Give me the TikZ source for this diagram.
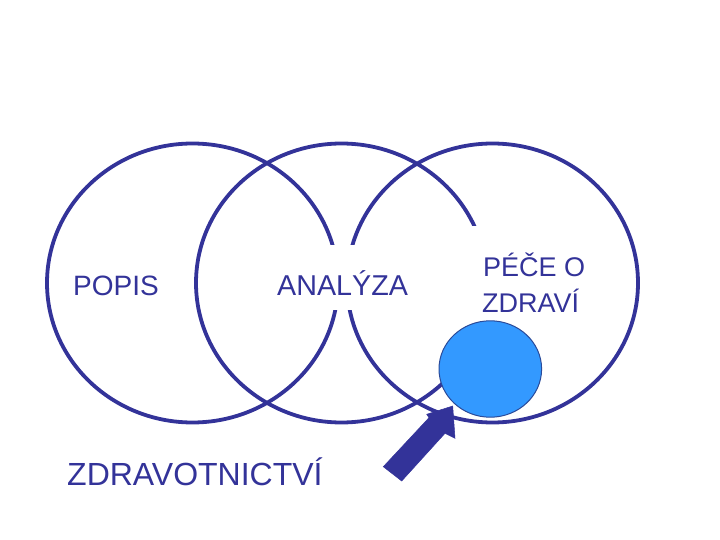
\documentclass[tikz,border=0pt]{standalone}
\usepackage{fontspec}
\setmainfont{Liberation Sans}
\definecolor{ringblue}{HTML}{333399}
\definecolor{ballblue}{HTML}{3399FF}
\definecolor{balledge}{HTML}{2A4A99}
\begin{document}
\begin{tikzpicture}[x=1bp,y=-1bp,
  ring/.style={draw=ringblue,line width=3.8bp},
  lbl/.style={text=ringblue,inner sep=0pt,anchor=base west,font=\fontsize{28bp}{34bp}\selectfont},
  biglbl/.style={lbl,font=\fontsize{32bp}{36bp}\selectfont},
  cover/.style={fill=white,draw=none,inner sep=0pt,minimum width=#1},
  ball/.style={fill=ballblue,draw=balledge,line width=1bp},
  blockarrow/.style={fill=ringblue,draw=ringblue,line width=0.5bp,line join=miter}]
\useasboundingbox (0,0) rectangle (720,540);
\fill[white] (0,0) rectangle (720,540);
% three rings
\draw[ring] (192.5,283) ellipse [x radius=145.5,y radius=139.5];
\draw[ring] (341.5,283) ellipse [x radius=145.5,y radius=139.5];
\draw[ring] (492.5,283) ellipse [x radius=145.5,y radius=139.5];
% white label backgrounds
\node[cover=131bp,minimum height=65bp] (bgA) at (342.5,277.5) {};
\node[cover=125bp,minimum height=114bp] (bgP) at (532.5,283) {};
% labels
\node[lbl] (popis) at (73,295) {POPIS};
\node[lbl,font=\fontsize{28.7bp}{34bp}\selectfont] (analyza) at (277,295) {ANALÝZA};
\node[lbl,font=\fontsize{27bp}{34bp}\selectfont] (pece) at (483,277) {PÉČE O};
\node[lbl,font=\fontsize{27bp}{34bp}\selectfont] (zdravi) at (482,312) {ZDRAVÍ};
\node[biglbl] (zdrav) at (67,485) {ZDRAVOTNICTVÍ};
% blue ball
\draw[ball] (490.3,369) ellipse [x radius=51.3,y radius=48.2];
\coordinate (ballc) at (490.3,369);
% block arrow
\filldraw[blockarrow] (383.3,466.7) -- (429,417.7) -- (426.7,414.3) -- (452.7,406)
  -- (455,438.3) -- (445,433.3) -- (401.7,481) -- cycle;
\end{tikzpicture}
\end{document}
